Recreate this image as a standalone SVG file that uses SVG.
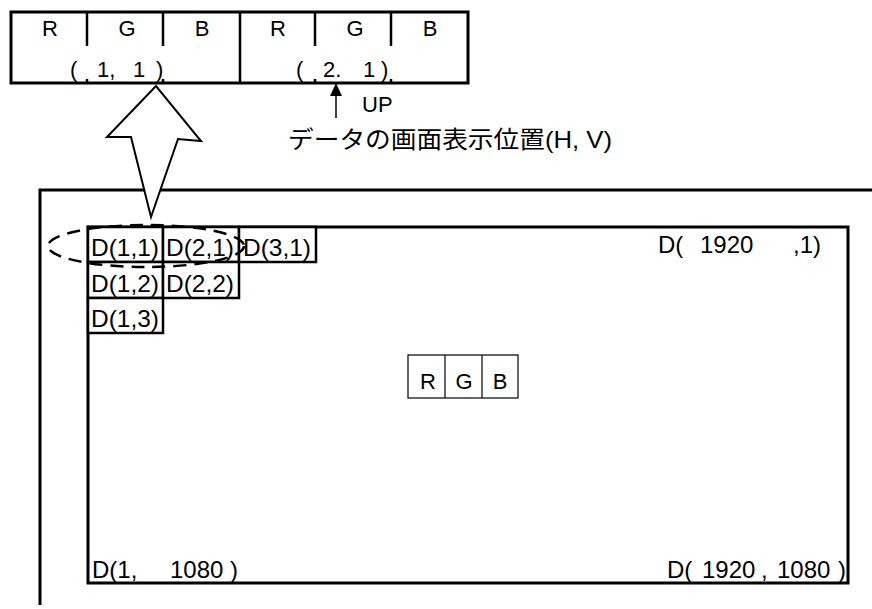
<svg xmlns="http://www.w3.org/2000/svg" width="872" height="609" viewBox="0 0 872 609">
<style>
.t{font-family:"Liberation Sans","Noto Sans CJK JP",sans-serif;fill:#000}
.s22{font-size:22px}
.s24{font-size:24px}
.ln{stroke:#000;fill:none}
.cell{fill:#fff;stroke:#000;stroke-width:2.5}
</style>
<rect width="872" height="609" fill="#fff"/>
<g id="data-bar">
<rect x="11" y="12" width="457" height="71" class="ln" stroke-width="3"/>
<line x1="240" y1="12" x2="240" y2="83" class="ln" stroke-width="2.5"/>
<g class="ln" stroke-width="2.5">
<line x1="87" y1="12" x2="87" y2="46"/><line x1="163" y1="12" x2="163" y2="46"/>
<line x1="315" y1="12" x2="315" y2="46"/><line x1="391" y1="12" x2="391" y2="46"/>
<line x1="87" y1="79" x2="87" y2="83"/><line x1="163" y1="79" x2="163" y2="83"/>
<line x1="315" y1="79" x2="315" y2="83"/><line x1="391" y1="79" x2="391" y2="83"/>
</g>
<g class="t s22" text-anchor="middle">
<text x="50" y="36">R</text><text x="127" y="36">G</text><text x="202" y="36">B</text>
<text x="278" y="36">R</text><text x="355" y="36">G</text><text x="430" y="36">B</text>
</g>
<text class="t s22" y="77"><tspan x="70">( </tspan><tspan x="97">1, </tspan><tspan x="133">1 </tspan><tspan x="156">)</tspan></text>
<text class="t s22" y="77"><tspan x="296">( </tspan><tspan x="323">2. </tspan><tspan x="363">1 </tspan><tspan x="381">)</tspan></text>
</g>
<g id="labels">
<text class="t s22" x="362" y="112">UP</text>
<text class="t s24" x="288" y="148" textLength="324" lengthAdjust="spacingAndGlyphs">データの画面表示位置(H, V)</text>
</g>
<g id="screen">
<polyline points="40,605 40,190 872,190" class="ln" stroke-width="3"/>
<rect x="88" y="227" width="760" height="356" class="ln" stroke-width="3"/>
</g>
<g id="cells">
<rect x="88" y="227" width="75" height="35" class="cell"/>
<rect x="163" y="227" width="76" height="35" class="cell"/>
<rect x="239" y="227" width="77" height="35" class="cell"/>
<rect x="88" y="262" width="75" height="36" class="cell"/>
<rect x="163" y="262" width="76" height="36" class="cell"/>
<rect x="88" y="298" width="75" height="35" class="cell"/>
<g class="t s24">
<text x="91" y="256" textLength="68" lengthAdjust="spacingAndGlyphs">D(1,1)</text>
<text x="166" y="256" textLength="68" lengthAdjust="spacingAndGlyphs">D(2,1)</text>
<text x="243" y="256" textLength="68" lengthAdjust="spacingAndGlyphs">D(3,1)</text>
<text x="91" y="292" textLength="68" lengthAdjust="spacingAndGlyphs">D(1,2)</text>
<text x="166" y="292" textLength="68" lengthAdjust="spacingAndGlyphs">D(2,2)</text>
<text x="91" y="327" textLength="68" lengthAdjust="spacingAndGlyphs">D(1,3)</text>
</g>
</g>
<g id="corners" class="t s24">
<text y="253"><tspan x="658">D( </tspan><tspan x="700">1920 </tspan><tspan x="793">,1)</tspan></text>
<text y="578"><tspan x="92">D(1, </tspan><tspan x="170">1080 </tspan><tspan x="230">)</tspan></text>
<text y="578"><tspan x="667">D( </tspan><tspan x="702">1920 </tspan><tspan x="761">, </tspan><tspan x="777">1080 </tspan><tspan x="838">)</tspan></text>
</g>
<g id="rgb-box">
<rect x="408" y="355" width="110" height="43" fill="#fff" stroke="#000" stroke-width="1.2"/>
<line x1="445" y1="355" x2="445" y2="398" stroke="#000" stroke-width="1.2"/>
<line x1="482" y1="355" x2="482" y2="398" stroke="#000" stroke-width="1.2"/>
<g class="t s22" text-anchor="middle">
<text x="428" y="389">R</text><text x="464" y="389">G</text><text x="500" y="389">B</text>
</g>
</g>
<g id="connectors">
<polygon points="156,86 107,137 131,137 151,217 178,139 201,141" fill="#fff" stroke="#000" stroke-width="2"/>
<ellipse cx="146" cy="246" rx="98" ry="21" fill="none" stroke="#000" stroke-width="2.5" stroke-dasharray="13,8"/>
<line x1="336" y1="95" x2="336" y2="118" stroke="#000" stroke-width="1.5"/>
<polygon points="336,83 330,96 342,96" fill="#000"/>
</g>
</svg>
